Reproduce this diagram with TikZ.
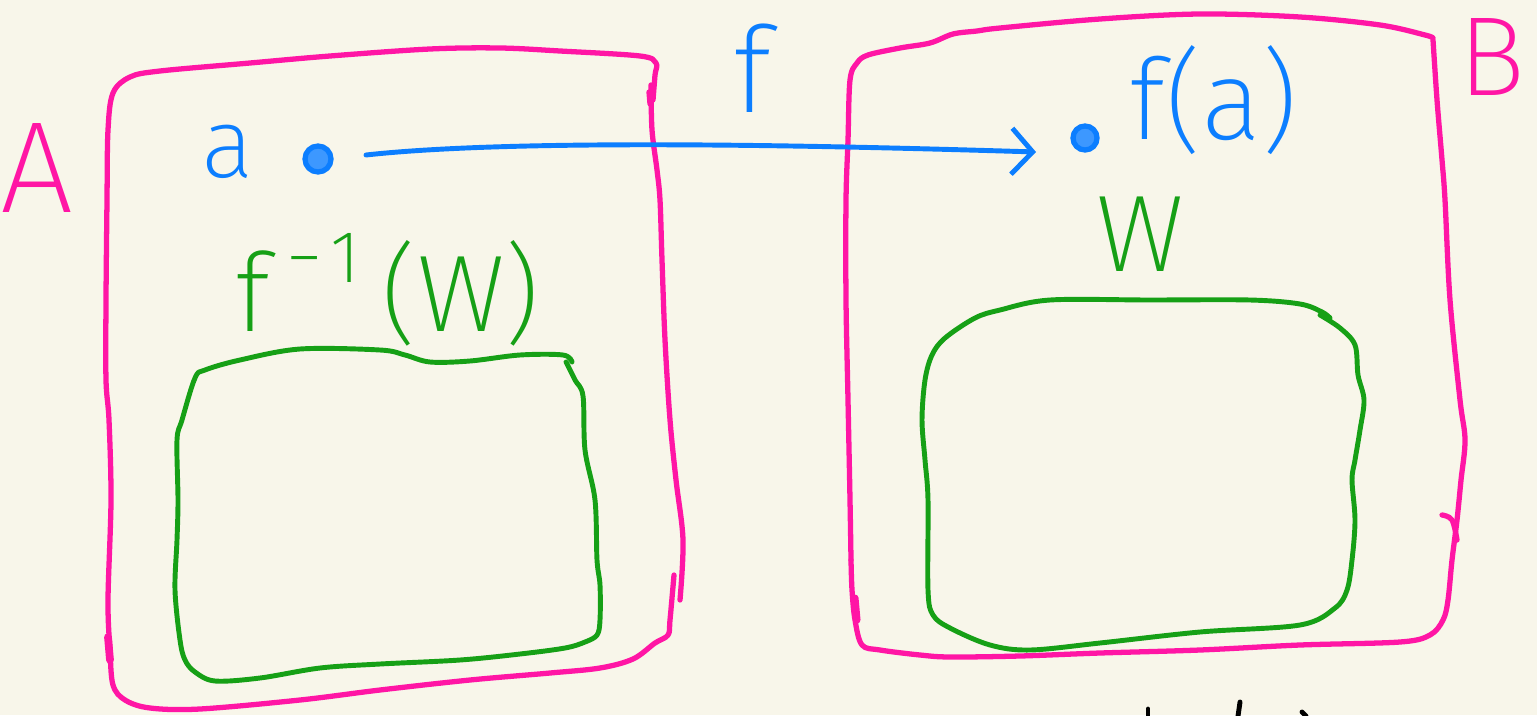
\documentclass[tikz,border=0pt]{standalone}
\usepackage{fontspec}
\setmainfont{Fira Sans}[UprightFont=* ExtraLight]
\usetikzlibrary{arrows.meta}
\definecolor{bg}{RGB}{248,246,234}
\definecolor{hpink}{RGB}{255,22,165}
\definecolor{hblue}{RGB}{12,126,255}
\definecolor{hgreen}{RGB}{22,160,22}
\tikzset{
  pinkline/.style={draw=hpink,line width=1.5pt,line cap=round,line join=round},
  greenline/.style={draw=hgreen,line width=1.4pt,line cap=round,line join=round},
  blueline/.style={draw=hblue,line width=1.4pt,line cap=round,line join=round},
  farrow/.style={blueline,-{Straight Barb[length=2.1mm,width=4.6mm,line width=1.4pt]}},
  lab/.style={inner sep=0pt,anchor=center},
  dotnode/.style={circle,draw=hblue,line width=1.5pt,fill=hblue!80!white,inner sep=0pt},
}
\begin{document}
\begin{tikzpicture}[x=0.01cm,y=-0.01cm]
\fill[bg] (0,0) rectangle (1537,715);
\useasboundingbox (0,0) rectangle (1537,715);

% ---- box A (pink)
\draw[pinkline] plot[smooth,tension=0.55] coordinates {(674,575) (670,620) (668,635) (655,643) (633,659) (600,668) (550,673) (470,680) (380,690) (300,700) (200,709) (150,708) (125,700) (113,685) (110,650) (108,600) (111,500) (109,420) (106,380) (106,300) (107,200) (108,130) (113,93) (130,77) (160,71) (250,63) (330,56) (430,49) (500,48) (560,51) (640,56) (656,63) (655,75) (653,100)};
\draw[pinkline] plot[smooth,tension=0.55] coordinates {(651,85) (652,130) (657,170) (660,200) (662,260) (665,340) (670,420) (676,480) (683,540) (680,600)};
\draw[pinkline] (649,92) -- (650,104);
\draw[pinkline,line width=2.2pt] (108,637) -- (110,660);

% ---- box B (pink)
\draw[pinkline] plot[smooth,tension=0.55] coordinates {(851,560) (852,590) (855,620) (862,645) (880,650) (920,655) (950,657) (1020,656) (1100,653) (1200,650) (1300,645) (1400,642) (1430,635) (1443,620) (1448,600) (1452,560) (1457,520) (1461,480) (1465,440) (1460,400) (1450,300) (1445,200) (1442,160) (1437,100) (1433,40)};
\draw[pinkline] plot[smooth,tension=0.55] coordinates {(1433,38) (1425,35) (1380,25) (1300,17) (1200,14) (1100,19) (1000,28) (977,31) (953,34) (930,43) (900,48) (868,55) (857,63) (850,80) (848,140) (846,200) (846,300) (848,400) (850,500) (851,560)};
\draw[pinkline] plot[smooth,tension=0.6] coordinates {(1442,515) (1452,520) (1457,540)};
\draw[pinkline,line width=2pt] (855,598) -- (857,620);

% ---- inner set in A (green)
\draw[greenline] plot[smooth,tension=0.55] coordinates {(566,362) (575,380) (583,396) (585,450) (595,500) (597,560) (600,585) (600,620) (597,635) (585,642) (565,648) (520,654) (460,660) (380,664) (320,668) (260,678) (215,681) (195,672) (185,660) (180,640) (175,590) (177,540) (178,500) (177,440) (182,420) (195,378) (205,370) (240,360) (300,349) (380,350) (405,355) (430,362) (470,361) (520,355) (563,355) (572,362)};

% ---- inner set in B (green)
\draw[greenline] plot[smooth,tension=0.55] coordinates {(1320,315) (1340,328) (1355,345) (1358,375) (1364,400) (1360,430) (1355,460) (1352,480) (1355,520) (1352,560) (1347,590) (1335,608) (1300,625) (1200,632) (1100,643) (1030,650) (990,645) (950,628) (933,615) (928,590) (928,500) (925,460) (922,420) (925,380) (932,355) (945,338) (975,318) (1000,310) (1050,300) (1150,300) (1250,300) (1300,304) (1322,312) (1330,318)};

% ---- points and map
\node[dotnode,minimum size=0.26cm] (pa) at (318,159) {};
\node[dotnode,minimum size=0.24cm] (pfa) at (1085,138) {};
\coordinate (arrS) at (366,155);
\coordinate (arrE) at (1036,152);
\draw[farrow] (arrS) .. controls (520,138) and (840,146) .. (arrE);

% ---- labels
\node[lab,text=hpink,font=\fontsize{37}{40}\selectfont] (labA) at (37,168) {A};
\node[lab,text=hpink,font=\fontsize{32}{36}\selectfont] (labB) at (1492,57) {B};
\node[lab,text=hblue,font=\fontsize{28}{30}\selectfont] (laba) at (228,152) {a};
\node[lab,text=hblue,font=\fontsize{34}{38}\selectfont] (labf) at (752,68) {f};
\node[lab,text=hblue,font=\fontsize{32}{36}\selectfont] (labfa) at (1214,100) {f(a)};
\node[lab,text=hgreen,font=\fontsize{31}{34}\selectfont] (labW) at (1140,234) {W};
\node[lab,text=hgreen,font=\fontsize{31}{34}\selectfont] (labpre) at (388,290) {f\hspace{0.15em}\raisebox{0.45em}{\fontsize{21}{23}\selectfont −\hspace{0.1em}1}\hspace{0.2em}(W)};

% ---- cut-off marks at the bottom edge
\draw[black,line width=1.4pt,line cap=round] (1148,709) -- (1148,716);
\draw[black,line width=1.4pt,line cap=round] (1240,702) -- (1238,716);
\draw[black,line width=1.4pt,line cap=round] (1302,712) -- (1306,716);
\end{tikzpicture}
\end{document}
